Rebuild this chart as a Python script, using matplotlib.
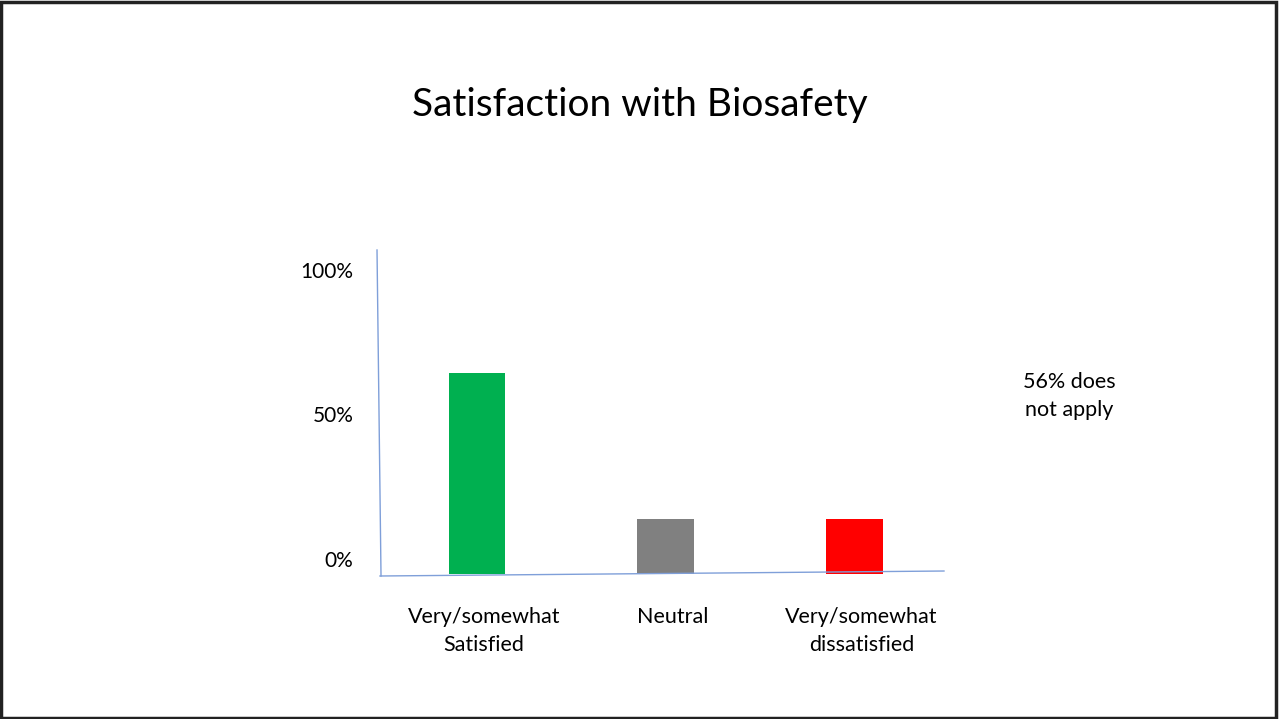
import matplotlib
matplotlib.use("Agg")
import matplotlib.pyplot as plt
import matplotlib.transforms as mtransforms
from matplotlib.patches import Rectangle

plt.rcParams['font.family'] = ['Lato', 'DejaVu Sans']

categories = ['Very/somewhat\nSatisfied', 'Neutral', 'Very/somewhat\ndissatisfied']
values = [66, 18, 18]
colors = ['#00B050', '#808080', '#FF0000']
tick_pos = [5, 52.5, 100]
tick_labels = ['0%', '50%', '100%']
note = '56% does\nnot apply'

W, H = 1279, 719
fig = plt.figure(figsize=(W / 100, H / 100), dpi=100)

# axes box in pixels: x 380..944, y 250..576 (from top)
ax = fig.add_axes([380 / W, (H - 576) / H, 564 / W, 326 / H])
x = list(range(len(categories)))
ax.bar(x, values, width=0.3, color=colors, zorder=1)
ax.set_xlim(-0.514, 2.474)
ax.set_ylim(-0.66, 106.6)

for s in ax.spines.values():
    s.set_visible(False)
ax.set_yticks(tick_pos, tick_labels)
ax.set_xticks(x, categories)
ax.tick_params(axis='y', length=0, pad=19, labelsize=15)
ax.tick_params(axis='x', length=0, pad=22, labelsize=15.5)
# labels on the slide sit a little right of the bars
shift = mtransforms.ScaledTranslation(7 / 100, 0, fig.dpi_scale_trans)
for lab in ax.get_xticklabels():
    lab.set_linespacing(1.53)
    lab.set_transform(lab.get_transform() + shift)

# hand-drawn looking axis lines
ax.plot([-0.0053, 0.0018], [1.0, 0.0], color='#7F9FD9', lw=1,
        transform=ax.transAxes, clip_on=False, zorder=2)
ax.plot([0.0, 1.0], [0.0, 0.0153], color='#7F9FD9', lw=1,
        transform=ax.transAxes, clip_on=False, zorder=2)

fig.text(640 / W, 1 - 105 / H, 'Satisfaction with Biosafety', fontsize=28,
         ha='center', va='center')
fig.text(1069 / W, 1 - 396 / H, note, fontsize=15.5, ha='center', va='center',
         linespacing=1.53)

# slide border
fig.patches.append(Rectangle((0.001, 0.001), 0.997, 0.996, transform=fig.transFigure,
                             fill=False, edgecolor='#222222', lw=2.5))

fig.savefig('out.png', dpi=100)
